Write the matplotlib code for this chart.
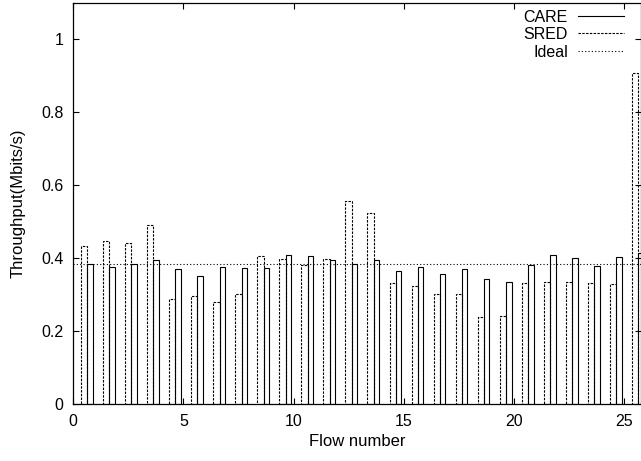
import numpy as np
import matplotlib
matplotlib.use("Agg")
import matplotlib.pyplot as plt
from matplotlib.lines import Line2D

plt.rcParams['font.family'] = ['Liberation Sans', 'DejaVu Sans']

# throughput per flow (Mbits/s)
flows = np.arange(1, 27)
care = [0.385, 0.377, 0.383, 0.395, 0.369, 0.350, 0.377, 0.373, 0.373, 0.410,
        0.406, 0.395, 0.385, 0.394, 0.364, 0.377, 0.357, 0.369, 0.342, 0.335,
        0.380, 0.410, 0.400, 0.379, 0.403, 0.415]
sred = [0.433, 0.448, 0.442, 0.492, 0.288, 0.295, 0.279, 0.302, 0.405, 0.398,
        0.380, 0.399, 0.558, 0.525, 0.333, 0.324, 0.302, 0.301, 0.239, 0.242,
        0.333, 0.335, 0.334, 0.331, 0.328, 0.908]
ideal = 10.0 / 26

fig = plt.figure(figsize=(6.41, 4.61), dpi=100)
ax = fig.add_axes([73.3 / 641, 1 - 404 / 461, 1 - 73.3 / 641, (404 - 3) / 461])

dash = (0, (2.2, 1.2))
ax.bar(flows - 0.5, sred, width=0.28, fill=False, edgecolor='black',
       linewidth=0.8, linestyle=dash)
ax.bar(flows - 0.23, care, width=0.26, fill=False, edgecolor='black',
       linewidth=0.8)
ax.axhline(ideal, color='black', linewidth=0.8, linestyle=(0, (1, 2)))

ax.set_xlim(0, 25.78)
ax.set_ylim(0, 1.1)
ax.set_xticks([0, 5, 10, 15, 20, 25])
ax.set_yticks([0, 0.2, 0.4, 0.6, 0.8, 1.0])
ax.set_yticklabels(['0', '0.2', '0.4', '0.6', '0.8', '1'])
ax.tick_params(direction='in', length=4.5, width=0.8, top=True, right=True,
               labelsize=11.5, pad=7)
for s in ax.spines.values():
    s.set_linewidth(0.9)

ax.set_xlabel('Flow number', fontsize=12, labelpad=4)
ax.set_ylabel('Throughput(Mbits/s)', fontsize=12, labelpad=11)

handles = [Line2D([], [], color='black', lw=0.8),
           Line2D([], [], color='black', lw=0.8, linestyle=dash),
           Line2D([], [], color='black', lw=0.8, linestyle=(0, (1, 2)))]
ax.legend(handles, ['CARE', 'SRED', 'Ideal'], loc='upper right',
          bbox_to_anchor=(624 / 641, 1 - 9.5 / 461), bbox_transform=fig.transFigure,
          frameon=False, markerfirst=False, fontsize=11.5, borderpad=0,
          borderaxespad=0, handlelength=2.88, handletextpad=0.63,
          labelspacing=0.16)

fig.savefig('out.png', dpi=100)
